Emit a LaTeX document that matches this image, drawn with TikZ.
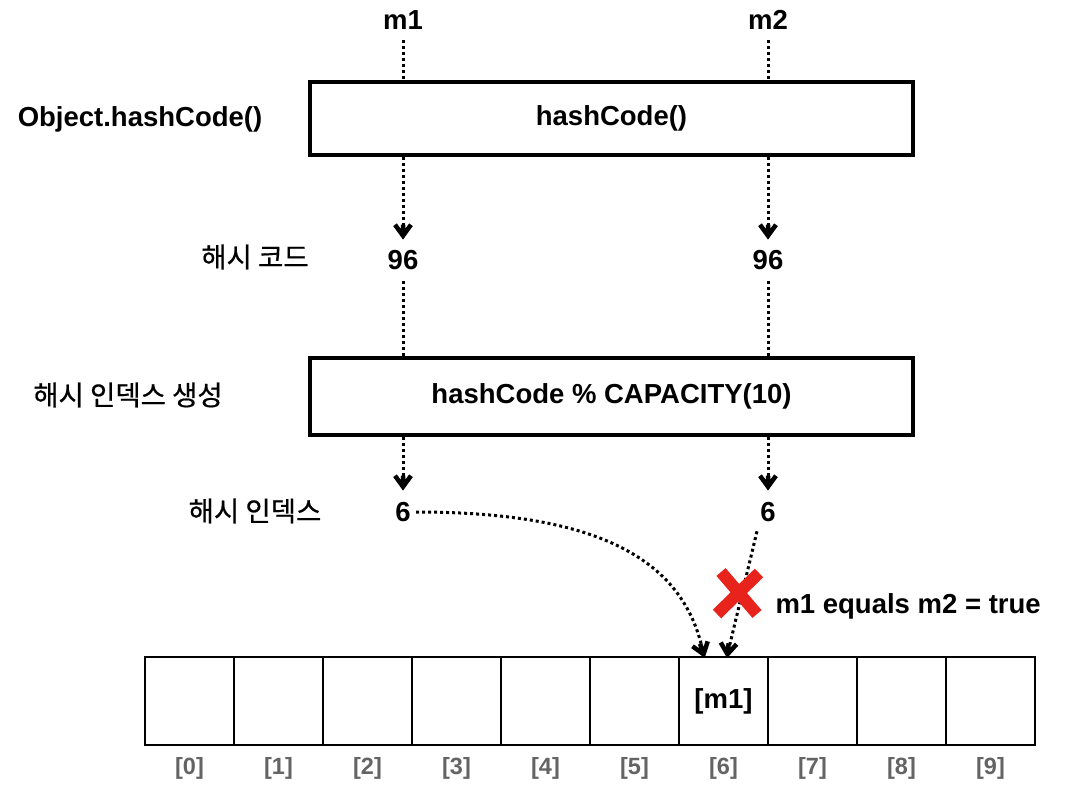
\documentclass[tikz,border=0pt]{standalone}
\usepackage{fontspec}
\setmainfont{Liberation Sans}
\newfontfamily\krfont[FakeBold=0.6]{Noto Sans CJK KR}
\usepackage{xcolor}
\definecolor{crossred}{RGB}{232,35,27}
\definecolor{idxgray}{RGB}{100,100,100}
\usepackage{tikz}
\usetikzlibrary{positioning}
\tikzset{
	calcbox/.style={draw=black, line width=4pt, minimum width=603pt, inner sep=0pt, font=\fontsize{27.5}{32}\selectfont\bfseries},
	cell/.style={draw=black, line width=1.5pt, minimum width=89pt, minimum height=88pt, inner sep=0pt},
	val/.style={font=\fontsize{27.5}{32}\selectfont\bfseries},
	krlabel/.style={font=\fontsize{27.5}{32}\selectfont\krfont},
	idxlabel/.style={text=idxgray, font=\fontsize{23.5}{28}\selectfont\bfseries},
	link/.style={line width=3pt, dash pattern=on 3pt off 3pt},
	head/.style={line width=4.5pt, line join=miter}
}
% chevron tip at a named point
\newcommand{\tiphead}[2]{\draw[head, rotate around={#2:(#1)}] (#1) ++(-8,-11) -- (#1) -- ++(8,-11) (#1) -- ++(0,-11);}

\begin{document}
\begin{tikzpicture}[x=1pt, y=-1pt]
		\useasboundingbox (0, 0) rectangle (1083, 793);

		% objects
		\node[val] (m1) at (403, 20) {m1};
		\node[val] (m2) at (768, 20) {m2};

		% hash code step
		\node[calcbox, minimum height=73pt] (hashbox) at (611.5, 118) {hashCode()};
		\node[val] (hashlabel) at (140, 119) {Object.hashCode()};
		\node[val] (code1) at (403, 260) {96};
		\node[val] (code2) at (768, 260) {96};
		\node[krlabel] (codelabel) at (255, 257) {해시 코드};

		% hash index step
		\node[calcbox, minimum height=77pt] (modbox) at (611.5, 396.5) {hashCode \% CAPACITY(10)};
		\node[krlabel] (modlabel) at (128, 395) {해시 인덱스 생성};
		\node[val] (idx1) at (403, 512) {6};
		\node[val] (idx2) at (768, 512) {6};
		\node[krlabel] (idxlabel) at (255, 511) {해시 인덱스};

		% array
		\foreach \i in {0,...,9}{
			\node[cell] (c\i) at ({189.5 + 89 * \i}, 701) {};
			\node[idxlabel] (n\i) at ({189.5 + 89 * \i}, 768) {[\i]};
		}
		\node[val] (stored) at (c6) {[m1]};

		% arrow ends
		\coordinate (code1tip) at ([yshift=11pt]code1.north);
		\coordinate (code2tip) at ([yshift=11pt]code2.north);
		\coordinate (idx1tip) at ([yshift=12pt]idx1.north);
		\coordinate (idx2tip) at ([yshift=12pt]idx2.north);
		\coordinate (in1) at ([xshift=-20pt, yshift=2pt]c6.north);
		\coordinate (in2) at ([xshift=4pt, yshift=2pt]c6.north);

		% m1 path
		\draw[link] ([yshift=-7pt]m1.south) -- (m1.south |- hashbox.north);
		\draw[link] (hashbox.south -| code1) -- (code1tip);
		\draw[link] ([yshift=-8pt]code1.south) -- (code1.south |- modbox.north);
		\draw[link] (modbox.south -| idx1) -- (idx1tip);
		\draw[link] ([xshift=2pt]idx1.east) .. controls (600, 512) and (685, 560) .. (in1);
		\tiphead{code1tip}{0}
		\tiphead{idx1tip}{0}
		\tiphead{in1}{18}

		% m2 path
		\draw[link] ([yshift=-7pt]m2.south) -- (m2.south |- hashbox.north);
		\draw[link] (hashbox.south -| code2) -- (code2tip);
		\draw[link] ([yshift=-8pt]code2.south) -- (code2.south |- modbox.north);
		\draw[link] (modbox.south -| idx2) -- (idx2tip);
		\draw[link] ([xshift=-11pt, yshift=-6pt]idx2.south) -- (in2);
		\tiphead{code2tip}{0}
		\tiphead{idx2tip}{0}
		\tiphead{in2}{-6}

		% rejected
		\draw[crossred, line width=12pt] (721, 572) -- (757, 614);
		\draw[crossred, line width=12pt] (759, 573) -- (717, 614);
		\node[val, anchor=west] (eqlabel) at (772, 606) {m1 equals m2 = true};

\end{tikzpicture}
\end{document}
